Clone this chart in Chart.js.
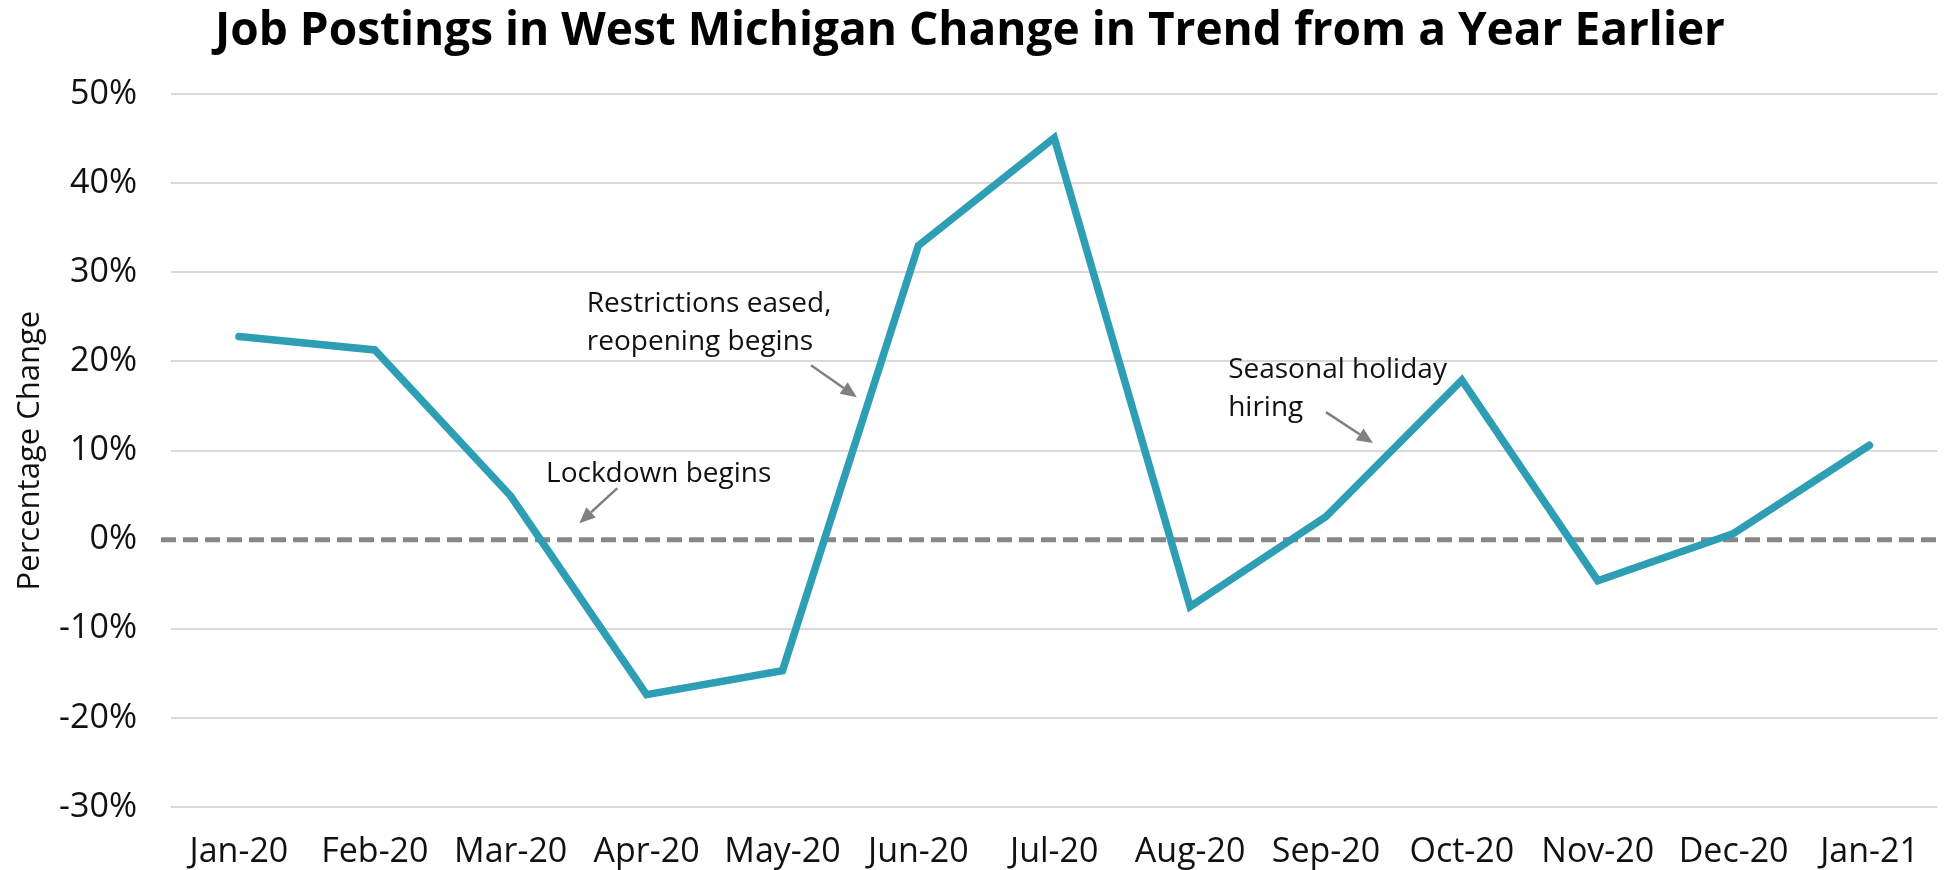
<!DOCTYPE html>
<html lang="en">
<head>
<meta charset="UTF-8">
<title>Job Postings in West Michigan</title>
<script src="https://cdn.jsdelivr.net/npm/chart.js"></script>
<style>
  html, body { margin: 0; padding: 0; background: #fff; }
</style>
</head>
<body>
<canvas id="jobChart" width="1944" height="870"></canvas>
<script>
// Data
const months = ['Jan-20', 'Feb-20', 'Mar-20', 'Apr-20', 'May-20', 'Jun-20', 'Jul-20',
                'Aug-20', 'Sep-20', 'Oct-20', 'Nov-20', 'Dec-20', 'Jan-21'];
const pctChange = [22.8, 21.3, 4.9, -17.4, -14.7, 33.0, 45.1, -7.5, 2.6, 17.9, -4.6, 0.7, 10.6];
const yMin = -30, yMax = 50, yStep = 10;

// Callouts, anchored in data units (category index, percent)
const noteText = [['Lockdown begins'], ['Restrictions eased,', 'reopening begins'], ['Seasonal holiday', 'hiring']];
const noteAt = [[2.26, 6.46], [2.56, 25.54], [7.28, 18.13]];
const arrowFrom = [[2.785, 5.79], [4.21, 19.59], [8.0, 14.32]];
const arrowTo = [[2.505, 1.86], [4.547, 16.0], [8.346, 10.84]];

const FONT = "'Open Sans', 'Liberation Sans', sans-serif";

const extras = {
    id: 'extras',
    beforeDatasetsDraw(chart) {
        const { ctx, chartArea, scales: { y } } = chart;
        const y0 = y.getPixelForValue(0);
        ctx.save();
        ctx.strokeStyle = '#878787';
        ctx.lineWidth = 5;
        ctx.setLineDash([15, 7]);
        ctx.beginPath();
        ctx.moveTo(chartArea.left - 10, y0);
        ctx.lineTo(chartArea.right + 4, y0);
        ctx.stroke();
        ctx.restore();
    },
    afterDatasetsDraw(chart) {
        const { ctx, scales: { x, y } } = chart;
        ctx.save();
        ctx.font = '28px ' + FONT;
        ctx.textBaseline = 'alphabetic';
        ctx.textAlign = 'left';
        noteText.forEach((lines, i) => {
            ctx.fillStyle = '#111';
            const px = x.getPixelForValue(noteAt[i][0]);
            const py = y.getPixelForValue(noteAt[i][1]);
            lines.forEach((t, j) => ctx.fillText(t, px, py + j * 38));

            const x1 = x.getPixelForValue(arrowFrom[i][0]), y1 = y.getPixelForValue(arrowFrom[i][1]);
            const x2 = x.getPixelForValue(arrowTo[i][0]), y2 = y.getPixelForValue(arrowTo[i][1]);
            const ang = Math.atan2(y2 - y1, x2 - x1);
            const head = 16, half = 7;
            const bx = x2 - head * Math.cos(ang), by = y2 - head * Math.sin(ang);
            ctx.strokeStyle = '#808080';
            ctx.fillStyle = '#808080';
            ctx.lineWidth = 2.5;
            ctx.beginPath();
            ctx.moveTo(x1, y1);
            ctx.lineTo(bx, by);
            ctx.stroke();
            ctx.beginPath();
            ctx.moveTo(x2, y2);
            ctx.lineTo(bx + half * Math.sin(ang), by - half * Math.cos(ang));
            ctx.lineTo(bx - half * Math.sin(ang), by + half * Math.cos(ang));
            ctx.closePath();
            ctx.fill();
        });
        ctx.restore();
    }
};

new Chart(document.getElementById('jobChart'), {
    type: 'line',
    data: {
        labels: months,
        datasets: [{
            label: 'Job postings change',
            data: pctChange,
            borderColor: '#2e9eb5',
            borderWidth: 7.5,
            borderCapStyle: 'round',
            borderJoinStyle: 'miter',
            pointRadius: 0,
            tension: 0,
            fill: false
        }]
    },
    options: {
        responsive: false,
        animation: false,
        layout: { padding: { left: 0, right: 4, top: 0, bottom: 0 } },
        plugins: {
            legend: { display: false },
            tooltip: { enabled: false },
            title: {
                display: true,
                text: 'Job Postings in West Michigan Change in Trend from a Year Earlier',
                color: '#000',
                font: { family: FONT, size: 46, weight: 'bold' },
                padding: { top: 4, bottom: 35 }
            }
        },
        scales: {
            x: {
                offset: true,
                afterFit(scale) { scale.height = 63; },
                grid: { display: false, drawTicks: false },
                border: { display: false },
                ticks: { color: '#111', font: { family: FONT, size: 34 }, padding: 25, maxRotation: 0 }
            },
            y: {
                min: yMin,
                max: yMax,
                afterFit(scale) { scale.width = 171; },
                grid: {
                    drawTicks: false,
                    lineWidth: 2,
                    color: c => (c.tick && c.tick.value === 0) ? 'rgba(0,0,0,0)' : '#d9d9d9'
                },
                border: { display: false },
                ticks: {
                    stepSize: yStep,
                    padding: 34,
                    color: '#111',
                    font: { family: FONT, size: 34 },
                    callback: v => v + '%'
                },
                title: {
                    display: true,
                    text: 'Percentage Change',
                    color: '#111',
                    font: { family: FONT, size: 31 },
                    padding: { top: 12, bottom: 0 }
                }
            }
        }
    },
    plugins: [extras]
});
</script>
</body>
</html>
